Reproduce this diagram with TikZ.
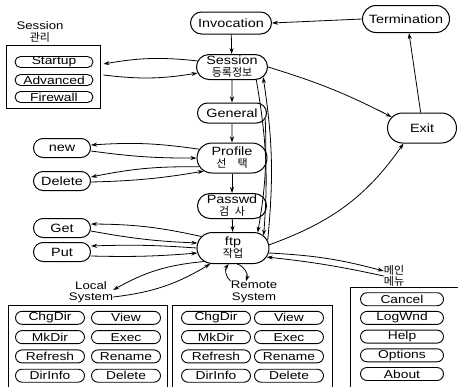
\documentclass[tikz,border=0pt]{standalone}
\usepackage{fontspec}
\setmainfont{Liberation Sans}[FakeStretch=1.2]
\newfontfamily\kr{Noto Sans CJK KR}
\newcommand{\kor}[1]{{\kr\fontsize{11}{12}\selectfont #1}}
\usetikzlibrary{shapes.misc,arrows.meta}

\tikzset{
  >={Stealth[length=6pt,width=4pt]},
  state/.style={draw,line width=1pt,rounded rectangle,minimum width=70pt,minimum height=22pt,
    inner sep=0.5pt,align=center,font=\fontsize{12}{12}\selectfont},
  small/.style={state,minimum width=58pt,minimum height=19pt},
  btn/.style={draw,line width=0.9pt,rounded rectangle,minimum width=69pt,minimum height=13pt,
    inner sep=0pt,font=\fontsize{11.5}{12}\selectfont},
  lab/.style={align=center,inner sep=0pt,font=\fontsize{11}{11.5}\selectfont},
  group/.style={draw,line width=0.8pt,inner sep=0pt},
  link/.style={->,line width=0.8pt}
}

\begin{document}
\begin{tikzpicture}[x=1pt,y=-1pt]
\useasboundingbox (0,0) rectangle (458,386);
% main column
\node[state,minimum width=82pt] (inv) at (231,23) {Invocation};
\node[state,minimum width=88pt,minimum height=27pt] (term) at (406,19) {Termination};
\node[state,minimum width=72pt,minimum height=25pt] (sess) at (232,67) {Session\\\kor{등록정보}};
\node[state,minimum height=20pt] (gen) at (232,113) {General};
\node[state,minimum width=71pt,minimum height=30pt] (prof) at (232,158) {Profile\\\kor{선\quad 택}};
\node[state,minimum height=25pt] (pass) at (232,206) {Passwd\\\kor{검\enspace 사}};
\node[state,minimum width=73pt,minimum height=31pt] (ftp) at (233,248) {ftp\\\kor{작업}};
\node[state,minimum height=30pt] (exit) at (422,128) {Exit};

% session management
\node[lab] (mgrl) at (40,32) {Session\\\kor{관리}};
\node[group,minimum width=94pt,minimum height=63pt] (mgr) at (53,77) {};
\node[btn,minimum width=78pt,minimum height=11pt] (start) at (54,62) {Startup};
\node[btn,minimum width=78pt,minimum height=11pt] (adv) at (54,80) {Advanced};
\node[btn,minimum width=78pt,minimum height=11pt] (fire) at (54,97) {Firewall};

% side nodes
\node[small] (new) at (62,148) {new};
\node[small] (del) at (62,181) {Delete};
\node[small] (get) at (62,228) {Get};
\node[small] (put) at (62,252) {Put};

% lower groups
\node[lab] (loc) at (91,292) {Local\\System};
\node[lab] (rem) at (254,292) {Remote\\System};
\node[lab] (menu) at (394,276) {\kor{메인}\\\kor{메뉴}};
\node[group,minimum width=159pt,minimum height=88pt] (lbox) at (87.5,349) {};
\node[group,minimum width=160pt,minimum height=88pt] (rbox) at (252,349) {};
\node[group,minimum width=112pt,minimum height=106pt] (mbox) at (406,340) {};
\foreach \t [count=\i] in {ChgDir,MkDir,Refresh,DirInfo}{
  \node[btn] (lc\i) at (50,298.5+19.3*\i) {\t};
  \node[btn] (rc\i) at (216,298.5+19.3*\i) {\t};
}
\foreach \t [count=\i] in {View,Exec,Rename,Delete}{
  \node[btn] (lv\i) at (126,298.5+19.3*\i) {\t};
  \node[btn] (rv\i) at (289,298.5+19.3*\i) {\t};
}
\foreach \t [count=\i] in {Cancel,LogWnd,Help,Options,About}
  \node[btn,minimum width=83pt] (mb\i) at (402,280.5+18.7*\i) {\t};

% connectors
\draw[link] (term.west) -- (inv.east);
\draw[link] (inv) -- (sess);
\draw[link] (sess) -- (gen);
\draw[link] (gen) -- (prof);
\draw[link] (prof) -- (pass);
\draw[link] (pass) -- (ftp);
\draw[link] (sess.east) to[bend left=5] (exit.160);
\draw[link] (ftp.5) to[out=20,in=235] (exit.220);
\draw[link] (exit.95) -- (term.-78);
\draw[link] (sess.-28) to[bend left=7] (ftp.22);
\draw[link] (ftp.12) to[bend right=7] (sess.-18);
\draw[link] (gen.-10) to[bend left=6] (ftp.32);
\draw[link] (sess.170) to[bend right=8] ([xshift=3pt,yshift=13pt]mgr.east);
\draw[link] ([xshift=3pt,yshift=2pt]mgr.east) to[bend right=8] (sess.190);
\draw[link] (prof.165) to[bend right=6] ([yshift=3pt]new.east);
\draw[link] ([yshift=-3pt]new.east) to[bend right=4] (prof.180);
\draw[link] (prof.195) to[bend right=6] ([yshift=4pt]del.east);
\draw[link] ([yshift=-1pt]del.east) to[bend right=4] (prof.205);
\draw[link] (ftp.160) to[bend right=6] ([yshift=4pt]get.east);
\draw[link] ([yshift=-3pt]get.east) to[bend right=4] (ftp.172);
\draw[link] (ftp.180) to[bend right=3] ([yshift=6pt]put.east);
\draw[link] ([yshift=-4pt]put.east) to[bend right=3] (ftp.188);
\draw[link] (ftp.205) to[bend right=12] ([yshift=2pt]loc.east);
\draw[link] ([yshift=-5pt]loc.east) to[bend right=12] (ftp.215);
\draw[link] (rem.north west) to[bend left=45] (ftp.255);
\draw[link] (ftp.285) to[bend left=45] ([xshift=-8pt]rem.north);
\draw[link] (ftp.-8) to[bend left=6] ([yshift=5pt]menu.west);
\draw[link] ([yshift=0pt]menu.west) to[bend right=3] (ftp.-15);
\end{tikzpicture}
\end{document}
